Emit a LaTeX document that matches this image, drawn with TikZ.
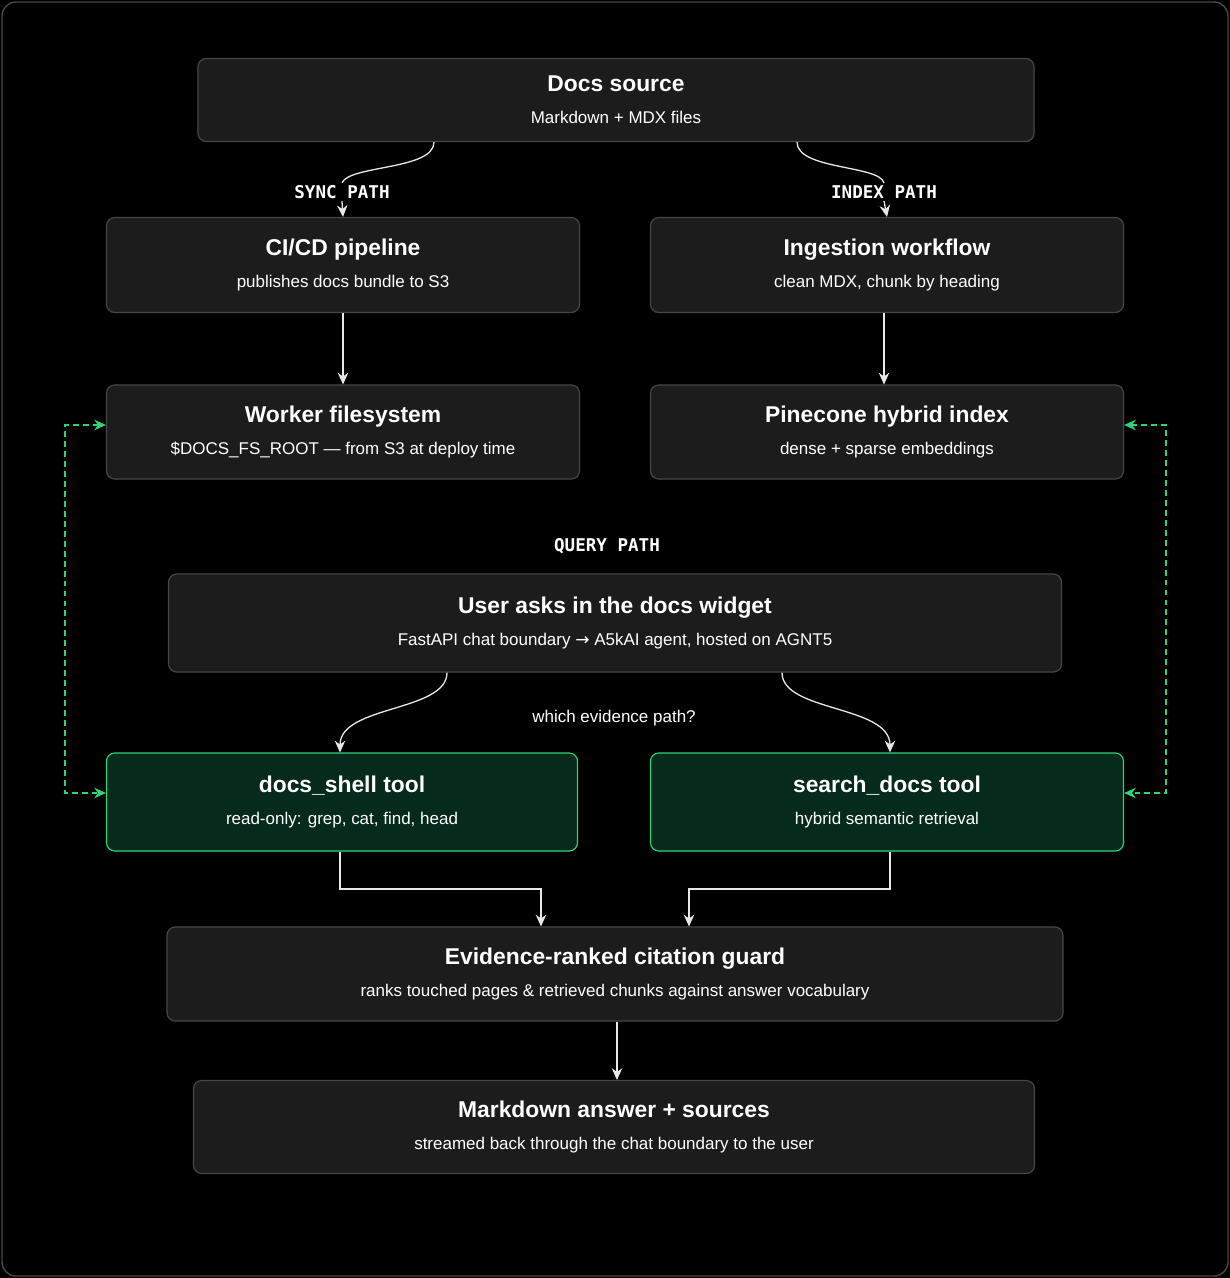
\documentclass[tikz,border=0pt]{standalone}
\usepackage{fontspec}
\setmainfont{Liberation Sans}
\newfontfamily\monof{DejaVu Sans Mono}
\newfontfamily\symf{DejaVu Sans}
\usetikzlibrary{positioning, arrows.meta, calc}

\definecolor{boxfill}{HTML}{1C1C1C}
\definecolor{boxline}{HTML}{474747}
\definecolor{gfill}{HTML}{062A1C}
\definecolor{gline}{HTML}{2BD576}
\definecolor{wline}{HTML}{E8E8E8}

\newcommand{\boxtext}[2]{{\fontsize{19.5pt}{24pt}\selectfont\bfseries #1}\\[9pt]{\fontsize{14.5pt}{18pt}\selectfont #2}}

\begin{document}
\begin{tikzpicture}[
        x=0.03cm, y=-0.03cm,
        >={Stealth[length=10pt,width=9pt]},
        box/.style={draw=boxline, fill=boxfill, rounded corners=7pt, line width=1pt,
            text=white, align=center, inner sep=0pt, font=\fontsize{14.5pt}{18pt}\selectfont},
        gbox/.style={box, draw=gline, fill=gfill},
        pathlabel/.style={text=white, font=\monof\bfseries\fontsize{15pt}{17pt}\selectfont, inner sep=2pt},
        link/.style={draw=wline, line width=1.1pt, ->},
        dashlink/.style={draw=gline, line width=1.4pt, dash pattern=on 5pt off 3.5pt, {Stealth[length=10pt,width=9pt]}-{Stealth[length=10pt,width=9pt]}},
    ]

    % background and frame
    \fill[black] (0,0) rectangle (1230,1278);
    \draw[boxline, line width=1.2pt, rounded corners=12pt] (2,2) rectangle (1228,1276);

    % boxes
    \node[box, minimum width=25.08cm, minimum height=2.49cm] (src) at (616,100) {\boxtext{Docs source}{Markdown + MDX files}};
    \node[box, minimum width=14.19cm, minimum height=2.85cm] (ci) at (343,265) {\boxtext{CI/CD pipeline}{publishes docs bundle to S3}};
    \node[box, minimum width=14.19cm, minimum height=2.85cm] (ing) at (887,265) {\boxtext{Ingestion workflow}{clean MDX, chunk by heading}};
    \node[box, minimum width=14.19cm, minimum height=2.82cm] (fs) at (343,432) {\boxtext{Worker filesystem}{\$DOCS\_FS\_ROOT — from S3 at deploy time}};
    \node[box, minimum width=14.19cm, minimum height=2.82cm] (pine) at (887,432) {\boxtext{Pinecone hybrid index}{dense + sparse embeddings}};
    \node[box, minimum width=26.79cm, minimum height=2.94cm] (user) at (615,623) {\boxtext{User asks in the docs widget}{FastAPI chat boundary {\symf→} A5kAI agent, hosted on AGNT5}};
    \node[gbox, minimum width=14.13cm, minimum height=2.94cm] (shell) at (342,802) {\boxtext{docs\_shell tool}{read-only: grep, cat, find, head}};
    \node[gbox, minimum width=14.19cm, minimum height=2.94cm] (search) at (887,802) {\boxtext{search\_docs tool}{hybrid semantic retrieval}};
    \node[box, minimum width=26.88cm, minimum height=2.82cm] (guard) at (615,974) {\boxtext{Evidence-ranked citation guard}{ranks touched pages \& retrieved chunks against answer vocabulary}};
    \node[box, minimum width=25.23cm, minimum height=2.79cm] (ans) at (614,1127) {\boxtext{Markdown answer + sources}{streamed back through the chat boundary to the user}};

    % labels
    \node[pathlabel] (sync) at (342,192) {SYNC PATH};
    \node[pathlabel] (index) at (884,192) {INDEX PATH};
    \node[pathlabel] (query) at (607,546) {QUERY PATH};
    \node[text=white, font=\fontsize{14.5pt}{17pt}\selectfont] (which) at (614,718) {which evidence path?};

    % sync and index paths
    \draw[draw=wline, line width=1.1pt] (src.south -| 434,0) .. controls (434,170) and (350,165) .. (sync.north);
    \draw[link] (sync.south) -- (ci.north);
    \draw[draw=wline, line width=1.1pt] (src.south -| 797,0) .. controls (797,170) and (880,165) .. (index.north);
    \draw[link] (index.south) -- (ing.north);
    \draw[link] (ci) -- (fs);
    \draw[link] (ing.south -| 884,0) -- (pine.north -| 884,0);

    % query path
    \draw[link] (user.south -| 447,0) .. controls (447,712) and (340,705) .. (shell.north -| 340,0);
    \draw[link] (user.south -| 782,0) .. controls (782,712) and (890,705) .. (search.north -| 890,0);

    % dashed tool access
    \draw[dashlink] (fs.west |- 0,425) -- (65,425) -- (65,793) -- (shell.west |- 0,793);
    \draw[dashlink] (pine.east |- 0,425) -- (1166,425) -- (1166,793) -- (search.east |- 0,793);

    % evidence to guard
    \draw[link] (shell.south -| 340,0) -- (340,889) -- (541,889) -- (guard.north -| 541,0);
    \draw[link] (search.south -| 890,0) -- (890,889) -- (689,889) -- (guard.north -| 689,0);
    \draw[link] (guard.south -| 617,0) -- (ans.north -| 617,0);
\end{tikzpicture}
\end{document}
